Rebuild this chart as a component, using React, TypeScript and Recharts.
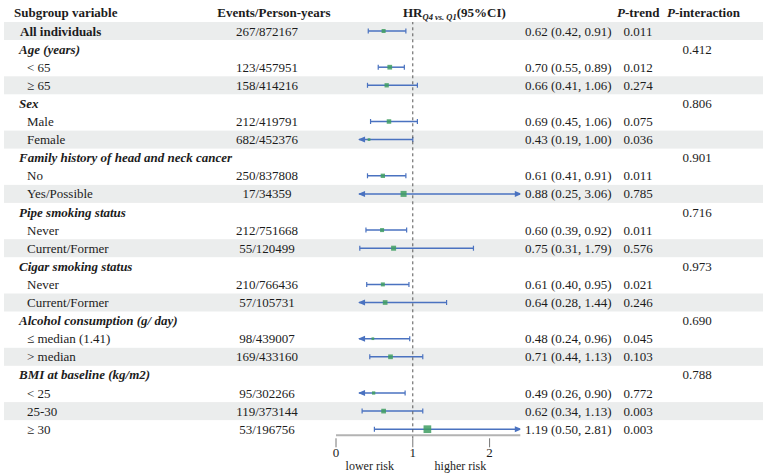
import React from 'react';
import { ComposedChart, Bar, XAxis, YAxis, ReferenceLine } from 'recharts';

// subgroup rows, top to bottom
const subgroups = [
  'All individuals', 'Age (years)', '< 65', '≥ 65', 'Sex', 'Male', 'Female',
  'Family history of head and neck cancer', 'No', 'Yes/Possible',
  'Pipe smoking status', 'Never', 'Current/Former',
  'Cigar smoking status', 'Never', 'Current/Former',
  'Alcohol consumption (g/ day)', '≤ median (1.41)', '> median',
  'BMI at baseline (kg/m2)', '< 25', '25-30', '≥ 30',
];
const kinds = [
  'total', 'group', 'item', 'item', 'group', 'item', 'item',
  'group', 'item', 'item',
  'group', 'item', 'item',
  'group', 'item', 'item',
  'group', 'item', 'item',
  'group', 'item', 'item', 'item',
];
const events = [
  '267/872167', '', '123/457951', '158/414216', '', '212/419791', '682/452376',
  '', '250/837808', '17/34359',
  '', '212/751668', '55/120499',
  '', '210/766436', '57/105731',
  '', '98/439007', '169/433160',
  '', '95/302266', '119/373144', '53/196756',
];
const hrs = [0.62, null, 0.70, 0.66, null, 0.69, 0.43, null, 0.61, 0.88, null, 0.60, 0.75, null, 0.61, 0.64, null, 0.48, 0.71, null, 0.49, 0.62, 1.19];
const lows = [0.42, null, 0.55, 0.41, null, 0.45, 0.19, null, 0.41, 0.25, null, 0.39, 0.31, null, 0.40, 0.28, null, 0.24, 0.44, null, 0.26, 0.34, 0.50];
const highs = [0.91, null, 0.89, 1.06, null, 1.06, 1.00, null, 0.91, 3.06, null, 0.92, 1.79, null, 0.95, 1.44, null, 0.96, 1.13, null, 0.90, 1.13, 2.81];
// relative box weights
const weights = [4, null, 4.7, 4.3, null, 4.5, 2.7, null, 4.3, 6, null, 4, 5, null, 4, 4.7, null, 2.7, 4.7, null, 3.3, 4.7, 7.7];
const pTrend = [
  '0.011', '', '0.012', '0.274', '', '0.075', '0.036', '', '0.011', '0.785', '',
  '0.011', '0.576', '', '0.021', '0.246', '', '0.045', '0.103', '', '0.772', '0.003', '0.003',
];
const pInteraction = [
  '', '0.412', '', '', '0.806', '', '', '0.901', '', '', '0.716', '', '',
  '0.973', '', '', '0.690', '', '', '0.788', '', '', '',
];
const xTicks = [0, 1, 2];

const CLIP_LO = 0.3;
const CLIP_HI = 2.4;
const FONT = "'Liberation Serif', 'Times New Roman', serif";
const TEXT = '#1c1c1c';
const BLUE = '#4a72c0';
const GREEN = '#3f9e62';
const STRIPE = '#ebeded';

const rows = subgroups.map((label, i) => ({
  id: String(i),
  label,
  kind: kinds[i],
  events: events[i],
  hr: hrs[i],
  lo: lows[i],
  hi: highs[i],
  weight: weights[i],
  pTrend: pTrend[i],
  pInteraction: pInteraction[i],
  ci: hrs[i] == null ? null : [Math.max(lows[i] as number, CLIP_LO), Math.min(highs[i] as number, CLIP_HI)],
}));

const fmt = (v: number) => v.toFixed(2);

// alternating row band, stretched over the full table width
const StripeShape = (props: any) => {
  const { y, height } = props;
  const idx = props.index ?? Number(props.payload?.id);
  if (idx % 2 !== 0 || !Number.isFinite(y)) return <g />;
  return <rect x={4} y={y} width={759} height={height} fill={STRIPE} />;
};

const CiShape = (props: any) => {
  const { x, y, width, height, payload } = props;
  if (!payload || payload.hr == null || !Number.isFinite(x) || !Number.isFinite(width)) return <g />;
  const cy = y + height / 2;
  const [a, b] = payload.ci;
  const x0 = x;
  const x1 = x + width;
  const bx = x0 + ((payload.hr - a) / (b - a)) * width;
  const s = payload.weight;
  const leftArrow = payload.lo < CLIP_LO;
  const rightArrow = payload.hi > CLIP_HI;
  return (
    <g>
      <line x1={x0} x2={x1} y1={cy} y2={cy} stroke={BLUE} strokeWidth={1.5} />
      {leftArrow ? (
        <path d={`M${x0 - 1},${cy} l7,-3 l0,6 z`} fill={BLUE} />
      ) : (
        <line x1={x0} x2={x0} y1={cy - 2.5} y2={cy + 2.5} stroke={BLUE} strokeWidth={1.2} />
      )}
      {rightArrow ? (
        <path d={`M${x1 + 1.5},${cy} l-7,-3 l0,6 z`} fill={BLUE} />
      ) : (
        <line x1={x1} x2={x1} y1={cy - 2.5} y2={cy + 2.5} stroke={BLUE} strokeWidth={1.2} />
      )}
      <rect x={bx - s / 2} y={cy - s / 2} width={s} height={s} fill={GREEN} fillOpacity={0.85} />
    </g>
  );
};

const RowTick = (props: any) => {
  const { y, payload } = props;
  const i = Number(payload.value);
  const r = rows[i];
  if (!r) return null;
  const ty = y + 4.5;
  const labelX = r.kind === 'item' ? 27 : r.kind === 'group' ? 19 : 20;
  const hy = y - 19 + 4.5;
  return (
    <g fontFamily={FONT} fontSize={13} fill={TEXT}>
      {i === 0 && (
        <g fontWeight="bold">
          <text x={14} y={hy}>Subgroup variable</text>
          <text x={274} y={hy} textAnchor="middle">Events/Person-years</text>
          <text x={403} y={hy}>
            HR
            <tspan fontSize={8.5} fontStyle="italic" dy={3}>Q4 vs. Q1</tspan>
            <tspan dy={-3}>(95%CI)</tspan>
          </text>
          <text x={617} y={hy}>
            <tspan fontStyle="italic">P</tspan>-trend
          </text>
          <text x={667} y={hy}>
            <tspan fontStyle="italic">P</tspan>-interaction
          </text>
        </g>
      )}
      <text
        x={labelX}
        y={ty}
        fontWeight={r.kind === 'item' ? 'normal' : 'bold'}
        fontStyle={r.kind === 'group' ? 'italic' : 'normal'}
      >
        {r.label}
      </text>
      {r.events && <text x={267} y={ty} textAnchor="middle">{r.events}</text>}
      {r.hr != null && (
        <text x={525} y={ty}>{`${fmt(r.hr)} (${fmt(r.lo as number)}, ${fmt(r.hi as number)})`}</text>
      )}
      {r.pTrend && <text x={638} y={ty} textAnchor="middle">{r.pTrend}</text>}
      {r.pInteraction && <text x={697} y={ty} textAnchor="middle">{r.pInteraction}</text>}
    </g>
  );
};

const AxisTick = (props: any) => {
  const { x, y, payload } = props;
  return (
    <g>
      <line x1={x} x2={x} y1={y} y2={y + 9} stroke="#777" strokeWidth={1} />
      <text x={x} y={y + 19} textAnchor="middle" fontFamily={FONT} fontSize={13} fill={TEXT}>
        {payload.value}
      </text>
    </g>
  );
};

// gray baseline a little above the axis box, plus the risk captions
const AxisDecor = (props: any) => {
  const vb = props.viewBox || {};
  const unit = vb.width / CLIP_HI;
  const ty = vb.y + 31.5;
  return (
    <g>
      <line x1={vb.x} x2={vb.x + vb.width} y1={vb.y - 3} y2={vb.y - 3} stroke="#b3b3b3" strokeWidth={2} />
      <g fontFamily={FONT} fontSize={12} fill={TEXT}>
        <text x={vb.x + unit * 0.44} y={ty} textAnchor="middle">lower risk</text>
        <text x={vb.x + unit * 1.62} y={ty} textAnchor="middle">higher risk</text>
      </g>
    </g>
  );
};

export default function App() {
  return (
    <div style={{ position: 'absolute', left: 0, top: 0, width: 767, height: 475, background: '#fff' }}>
      <ComposedChart
        width={767}
        height={475}
        data={rows}
        layout="vertical"
        margin={{ top: 22, right: 246.7, bottom: 0, left: 0 }}
        barCategoryGap={0}
      >
        <YAxis
          type="category"
          dataKey="id"
          width={336}
          axisLine={false}
          tickLine={false}
          tickSize={0}
          tickMargin={0}
          interval={0}
          tick={<RowTick />}
        />
        <XAxis
          type="number"
          domain={[0, CLIP_HI]}
          ticks={xTicks}
          allowDataOverflow
          height={36.7}
          axisLine={false}
          tickLine={false}
          tickSize={0}
          tickMargin={0}
          tick={<AxisTick />}
          label={{ content: <AxisDecor /> }}
        />
        <Bar
          dataKey="ci"
          shape={<CiShape />}
          background={<StripeShape />}
          isAnimationActive={false}
        />
        <ReferenceLine x={1} stroke="#555" strokeDasharray="3 3" strokeWidth={1} />
      </ComposedChart>
    </div>
  );
}
